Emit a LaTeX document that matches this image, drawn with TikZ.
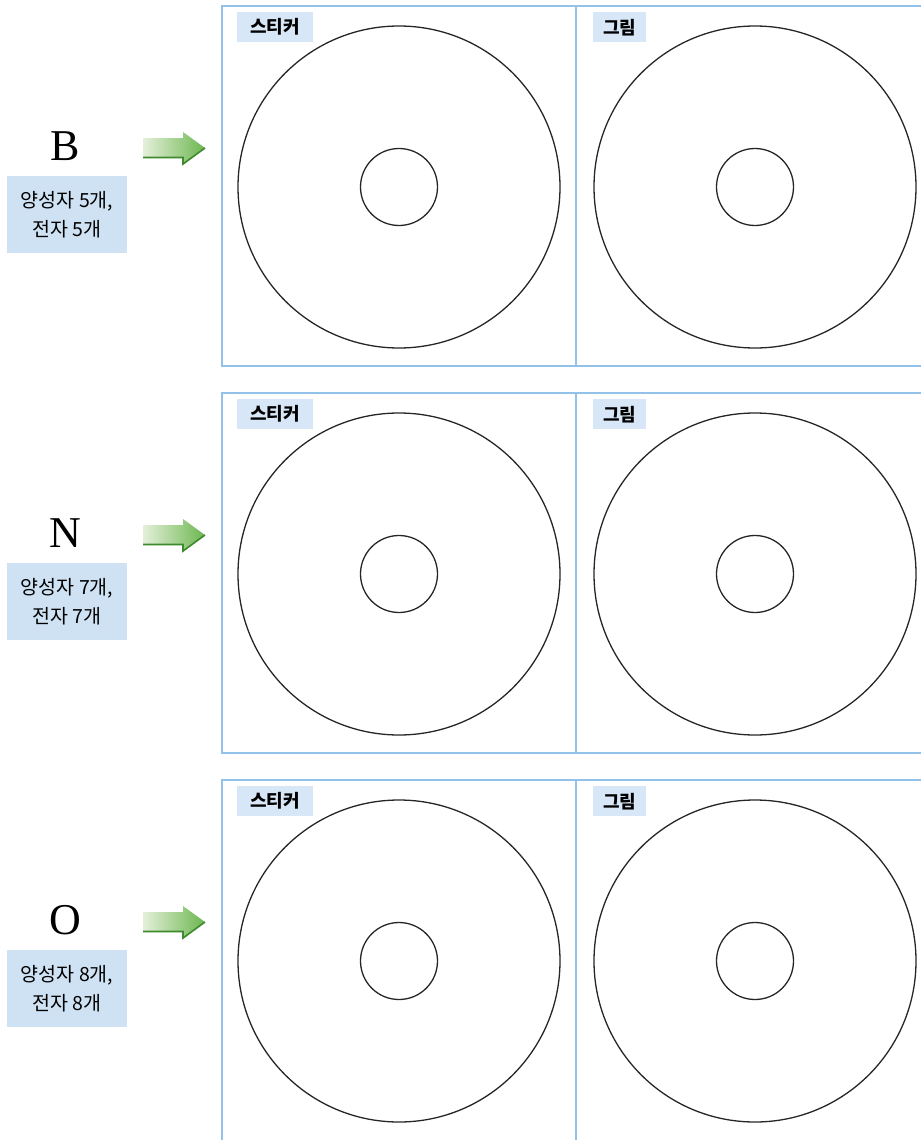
\documentclass[tikz,border=0pt]{standalone}
\usepackage{fontspec}
\newfontfamily\kr{Noto Sans CJK KR}
\setmainfont{Liberation Serif}
\usetikzlibrary{shadings}
\definecolor{frameblue}{HTML}{92C2EA}
\definecolor{tagblue}{HTML}{D8E7F7}
\definecolor{labblue}{HTML}{CFE2F3}
\definecolor{garrowL}{HTML}{E4F0DA}
\definecolor{garrowR}{HTML}{6DB650}
\definecolor{garrowD}{HTML}{3F8A2E}
\tikzset{
  frame/.style={draw=frameblue, line width=1.6pt},
  ring/.style={draw=black!85, line width=1.3pt},
  tagbox/.style={fill=tagblue, inner sep=0pt, font=\kr\bfseries\fontsize{18}{18}\selectfont, anchor=north west, minimum height=30pt},
  labbox/.style={fill=labblue, inner sep=0pt, minimum width=120pt, minimum height=77pt, align=center, font=\kr\fontsize{19.5}{29}\selectfont},
  elem/.style={font=\fontsize{44}{44}\selectfont},
  garrow/.style={left color=garrowL, right color=garrowR, draw=none}
}
\begin{document}
\begin{tikzpicture}[x=1pt,y=-1pt]
\useasboundingbox (0,0) rectangle (921,1140);
\foreach \row/\top/\el/\cnt in {1/6/B/5,2/393/N/7,3/780/O/8}{
  \pgfmathsetmacro{\cy}{\top+181}
  % frame
  \ifnum\row<3
    \draw[frame] (921,\top) -- (222,\top) -- (222,\top+360) -- (921,\top+360);
    \draw[frame] (576,\top) -- (576,\top+360);
  \else
    \draw[frame] (222,1140) -- (222,\top) -- (921,\top);
    \draw[frame] (576,\top) -- (576,1140);
  \fi
  % circles
  \node[ring, circle, minimum size=322pt, inner sep=0pt] (big1-\row) at (399,\cy) {};
  \node[ring, circle, minimum size=77pt, inner sep=0pt] (small1-\row) at (399,\cy) {};
  \node[ring, circle, minimum size=322pt, inner sep=0pt] (big2-\row) at (755,\cy) {};
  \node[ring, circle, minimum size=77pt, inner sep=0pt] (small2-\row) at (755,\cy) {};
  % tags
  \node[tagbox, minimum width=76pt] (tagA-\row) at (237,\top+6) {스티커};
  \node[tagbox, minimum width=53pt] (tagB-\row) at (593,\top+6) {그림};
  % element and label
  \node[elem] (el-\row) at (65,\top+140) {\el};
  \node[labbox] (lab-\row) at (67,\top+208.5) {양성자 {\cnt}개,\\전자 {\cnt}개};
  % arrow
  \coordinate (ar-\row) at (143,\top+142);
  \shade[garrow] (143,\top+132) -- (183,\top+132) -- (183,\top+126) -- (205,\top+142) -- (183,\top+159) -- (183,\top+152) -- (143,\top+152) -- cycle;
  \draw[garrowD, line width=1.6pt] (143,\top+151.5) -- (183,\top+151.5) -- (183,\top+158) -- (205,\top+142);
}
\end{tikzpicture}
\end{document}
